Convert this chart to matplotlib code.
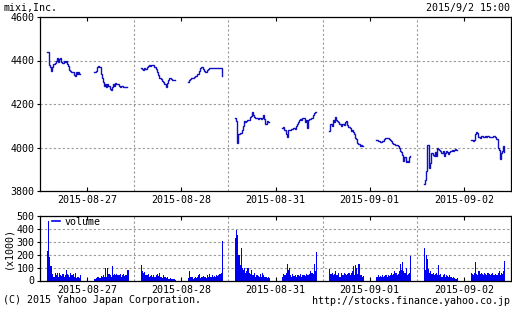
import matplotlib
matplotlib.use('Agg')
import matplotlib.pyplot as plt
from matplotlib.lines import Line2D
import numpy as np

plt.rcParams['font.family'] = ['DejaVu Sans Mono']
plt.rcParams['font.size'] = 7.2

dates = ['2015-08-27', '2015-08-28', '2015-08-31', '2015-09-01', '2015-09-02']
session_start_min = [30, 240]   # minutes after 08:30 for 09:00 and 12:30
day_minutes = 420               # each day shown 08:30-15:30
step_min = 5

# 5-minute prices (yen), 09:00-11:30 and 12:30-15:00
p27_am = [4440, 4440, 4380, 4370, 4350, 4370, 4385, 4390, 4400, 4410, 4395, 4405, 4410, 4395, 4390, 4400,
          4395, 4400, 4385, 4375, 4355, 4350, 4345, 4345, 4335, 4330, 4345, 4340, 4345, 4340, 4340]
p27_pm = [4345, 4345, 4350, 4370, 4375, 4370, 4340, 4320, 4300, 4285, 4290, 4280, 4290, 4285, 4270, 4265,
          4280, 4290, 4285, 4295, 4290, 4290, 4285, 4280, 4285, 4285, 4280, 4280, 4280, 4280, 4280]
p28_am = [4365, 4360, 4355, 4365, 4360, 4370, 4375, 4380, 4375, 4380, 4378, 4380, 4370, 4360, 4345, 4335,
          4320, 4320, 4315, 4305, 4300, 4290, 4280, 4295, 4310, 4320, 4318, 4315, 4310, 4310, 4310]
p28_pm = [4300, 4310, 4315, 4320, 4320, 4325, 4330, 4330, 4340, 4340, 4350, 4365, 4370, 4360, 4350, 4345,
          4345, 4355, 4360, 4365, 4365, 4365, 4365, 4365, 4365, 4365, 4365, 4365, 4365, 4365, 4330]
p31_am = [4135, 4120, 4020, 4060, 4065, 4065, 4080, 4100, 4120, 4115, 4120, 4125, 4125, 4140, 4145, 4165,
          4150, 4140, 4135, 4135, 4130, 4135, 4135, 4130, 4135, 4150, 4130, 4110, 4120, 4115, 4115]
p31_pm = [4088, 4095, 4080, 4060, 4050, 4080, 4080, 4080, 4085, 4085, 4090, 4085, 4100, 4110, 4115, 4125,
          4130, 4125, 4135, 4135, 4115, 4125, 4090, 4125, 4130, 4130, 4135, 4150, 4160, 4165, 4165]
p01_am = [4075, 4110, 4100, 4125, 4115, 4140, 4125, 4120, 4115, 4110, 4100, 4110, 4110, 4105, 4115, 4120,
          4105, 4095, 4090, 4075, 4080, 4070, 4060, 4045, 4040, 4020, 4015, 4008, 4010, 4008, 4005]
p01_pm = [4034, 4030, 4030, 4025, 4025, 4030, 4030, 4040, 4042, 4042, 4042, 4040, 4035, 4030, 4020, 4015,
          4015, 4010, 4010, 4005, 4000, 3985, 3980, 3965, 3940, 3955, 3935, 3940, 3935, 3955, 3960]
p02_am = [3830, 3850, 3890, 4010, 4010, 3905, 3930, 3975, 3965, 3960, 3980, 3960, 4000, 3995, 3990, 3985,
          3975, 3985, 3960, 3975, 3985, 3980, 3970, 3980, 3985, 3990, 3985, 3990, 3995, 3990, 3990]
p02_pm = [4033, 4033, 4030, 4035, 4060, 4070, 4065, 4050, 4045, 4055, 4055, 4050, 4050, 4052, 4050, 4055,
          4050, 4048, 4050, 4050, 4055, 4052, 4048, 4040, 4000, 3990, 3945, 3975, 3985, 4005, 3978]

# 5-minute volumes (x1000 shares)
v27_am = [230, 460, 180, 110, 110, 50, 30, 60, 40, 55, 30, 60, 45, 35, 50, 30, 40, 80, 50, 45, 30, 60, 40,
          50, 30, 60, 20, 30, 25, 20, 40]
v27_pm = [10, 15, 20, 25, 30, 20, 35, 30, 40, 25, 100, 30, 95, 50, 40, 30, 115, 40, 50, 45, 50, 40, 45,
          50, 30, 45, 50, 35, 40, 45, 80]
v28_am = [120, 70, 60, 65, 45, 40, 50, 30, 35, 40, 25, 40, 30, 45, 50, 35, 55, 30, 25, 20, 40, 30, 20,
          25, 15, 10, 20, 10, 15, 10, 5]
v28_pm = [20, 70, 30, 25, 15, 20, 30, 20, 25, 40, 50, 20, 30, 35, 25, 30, 20, 45, 25, 50, 30, 40, 30,
          35, 25, 40, 35, 40, 50, 60, 310]
v31_am = [330, 390, 350, 200, 120, 250, 100, 80, 95, 60, 70, 100, 60, 50, 80, 40, 45, 60, 30, 40, 35, 30,
          50, 30, 60, 40, 25, 30, 20, 25, 20]
v31_pm = [30, 50, 40, 60, 130, 80, 100, 40, 30, 50, 35, 40, 30, 45, 40, 35, 50, 30, 40, 45, 35, 50, 45,
          40, 50, 70, 60, 50, 130, 70, 220]
v01_am = [90, 50, 60, 40, 50, 70, 40, 45, 55, 30, 60, 40, 45, 60, 50, 40, 50, 60, 40, 60, 70, 110, 40,
          120, 100, 50, 125, 40, 40, 30, 35]
v01_pm = [30, 40, 30, 35, 25, 40, 30, 35, 40, 30, 45, 35, 40, 60, 45, 50, 70, 60, 40, 50, 70, 130, 80,
          140, 70, 60, 100, 40, 50, 60, 190]
v02_am = [250, 80, 200, 170, 90, 60, 70, 50, 60, 40, 50, 60, 40, 120, 40, 50, 30, 40, 50, 30, 40, 35, 30,
          40, 30, 20, 25, 20, 15, 10, 20]
v02_pm = [60, 50, 40, 60, 145, 50, 40, 70, 50, 60, 50, 40, 60, 50, 40, 60, 50, 40, 50, 60, 45, 40, 50,
          45, 60, 70, 40, 60, 50, 70, 150]

price_sessions = [p27_am, p27_pm, p28_am, p28_pm, p31_am, p31_pm, p01_am, p01_pm, p02_am, p02_pm]
vol_sessions = [v27_am, v27_pm, v28_am, v28_pm, v31_am, v31_pm, v01_am, v01_pm, v02_am, v02_pm]

line_color = '#1010c0'
bar_color = '#0000f0'
grid_color = '#999999'

W, H = 512, 310
fig = plt.figure(figsize=(W / 100, H / 100), dpi=100)
ax = fig.add_axes([40 / W, 1 - 191 / H, 471 / W, 174 / H])
axv = fig.add_axes([40 / W, 1 - 280.5 / H, 471 / W, 64.5 / H])

for k, (ps, vs) in enumerate(zip(price_sessions, vol_sessions)):
    day = k // 2
    start = session_start_min[k % 2]
    xs = day + (start + step_min * np.arange(len(ps))) / day_minutes
    ax.plot(xs, ps, color=line_color, lw=1.0, drawstyle='steps-post', solid_joinstyle='miter')
    axv.bar(xs, vs, width=step_min / day_minutes, align='edge', color=bar_color, linewidth=0)

centers = np.arange(len(dates)) + 0.5
bounds = np.arange(1, len(dates))

for a in (ax, axv):
    a.set_xlim(0, len(dates))
    a.set_xticks(centers)
    a.set_xticks(bounds, minor=True)
    a.set_xticklabels(dates)
    a.tick_params(axis='x', which='major', direction='in', length=3, top=True, pad=3, width=0.8)
    a.tick_params(axis='x', which='minor', length=0)
    a.tick_params(axis='y', direction='out', length=2.5, pad=1.5, width=0.8)
    a.grid(True, which='minor', axis='x', color=grid_color, linestyle=(0, (2, 2)), linewidth=0.8)
    a.grid(True, which='major', axis='y', color=grid_color, linestyle=(0, (2, 2)), linewidth=0.8)
    a.grid(False, which='major', axis='x')
    for s in a.spines.values():
        s.set_linewidth(0.9)
    a.set_axisbelow(True)

ax.set_ylim(3800, 4600)
ax.set_yticks(np.arange(3800, 4601, 200))
axv.set_ylim(0, 500)
axv.set_yticks(np.arange(0, 501, 100))
axv.set_ylabel('(x1000)', labelpad=2)

axv.legend(handles=[Line2D([], [], color=bar_color, lw=1.2)], labels=['volume'],
           loc='upper left', bbox_to_anchor=(0.026, 0.99), frameon=False,
           handlelength=0.8, handletextpad=0.45, borderpad=0, borderaxespad=0)

fig.text(3 / W, 1 - 8 / H, 'mixi,Inc.', va='center', ha='left')
fig.text(510 / W, 1 - 8 / H, '2015/9/2 15:00', va='center', ha='right')
fig.text(3 / W, 1 - 300 / H, '(C) 2015 Yahoo Japan Corporation.', va='center', ha='left')
fig.text(510 / W, 1 - 301 / H, 'http://stocks.finance.yahoo.co.jp', va='center', ha='right')

fig.savefig('out.png', dpi=100)
